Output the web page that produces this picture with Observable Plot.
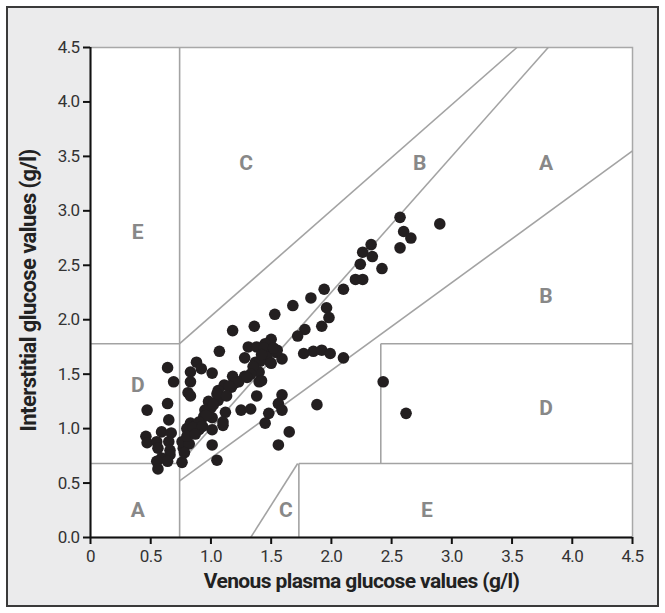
<!DOCTYPE html>
<html>
<head>
<meta charset="utf-8">
<script src="https://cdn.jsdelivr.net/npm/d3@7"></script>
<script src="https://cdn.jsdelivr.net/npm/@observablehq/plot@0.6"></script>
<style>
  html, body { margin: 0; padding: 0; background: #ffffff; }
  #wrap { position: relative; width: 665px; height: 613px; }
  #panel { position: absolute; left: 6px; top: 6px; width: 649px; height: 597px; background: #ebebec; border: 2px solid #3a3a3a; }
  #chart { position: absolute; left: 0; top: 0; }
  #chart svg text { letter-spacing: -0.6px; }
</style>
</head>
<body>
<div id="wrap"><div id="panel"></div><div id="chart"></div></div>
<script>
// Venous plasma glucose (g/l)
const venous = [
  2.57, 2.90, 2.60, 2.66, 2.57, 2.33, 2.26, 2.34, 2.24, 2.42,
  2.20, 2.26, 2.10, 1.94, 1.83, 1.68, 1.96, 1.53, 1.98, 1.36,
  1.92, 1.18, 1.78, 1.72, 1.50, 1.07, 1.31, 1.38, 1.45, 1.47,
  1.54, 1.85, 1.92, 1.99, 1.77, 2.10, 1.28, 1.59, 1.37, 1.49,
  0.88, 0.92, 0.83, 1.01, 0.64, 1.36, 1.18, 1.28, 1.40, 0.69,
  0.83, 1.23, 1.40, 1.42, 1.11, 1.17, 2.43, 0.81, 0.83, 1.06,
  1.38, 1.59, 0.64, 0.98, 1.06, 1.56, 1.88, 1.00, 0.95, 1.25,
  1.33, 1.59, 0.47, 1.12, 1.48, 2.62, 0.65, 1.10, 0.83, 0.88,
  1.45, 0.46, 0.47, 0.59, 0.67, 0.55, 0.56, 0.65, 0.66, 0.66,
  0.59, 0.55, 0.64, 0.56, 0.76, 0.77, 0.76, 0.82, 0.80, 0.90,
  1.01, 1.01, 1.05, 1.10, 1.65, 1.56, 1.01, 0.94, 1.55, 1.44,
  1.46, 1.41, 1.35, 1.33, 1.30, 1.20, 1.15, 1.05, 1.02, 0.96,
  0.90, 0.85, 0.80, 0.78, 1.42, 1.52, 0.93, 0.87, 1.13, 1.50
];
// Interstitial glucose (g/l)
const interstitial = [
  2.94, 2.88, 2.81, 2.75, 2.66, 2.69, 2.62, 2.58, 2.51, 2.47,
  2.37, 2.37, 2.28, 2.28, 2.20, 2.13, 2.11, 2.05, 2.02, 1.94,
  1.94, 1.90, 1.91, 1.85, 1.82, 1.71, 1.75, 1.75, 1.78, 1.71,
  1.70, 1.71, 1.72, 1.69, 1.69, 1.65, 1.65, 1.64, 1.61, 1.61,
  1.61, 1.55, 1.52, 1.51, 1.56, 1.54, 1.48, 1.48, 1.52, 1.43,
  1.43, 1.43, 1.43, 1.44, 1.40, 1.38, 1.43, 1.33, 1.30, 1.35,
  1.30, 1.31, 1.23, 1.25, 1.26, 1.23, 1.22, 1.19, 1.17, 1.17,
  1.18, 1.17, 1.17, 1.15, 1.14, 1.14, 1.08, 1.06, 1.05, 1.03,
  1.05, 0.93, 0.87, 0.97, 0.96, 0.88, 0.82, 0.88, 0.80, 0.76,
  0.73, 0.70, 0.70, 0.63, 0.69, 0.82, 0.88, 0.86, 1.00, 0.99,
  0.99, 0.85, 0.71, 1.03, 0.97, 0.85, 1.10, 1.11, 1.72, 1.74,
  1.66, 1.62, 1.57, 1.50, 1.47, 1.42, 1.39, 1.32, 1.22, 1.12,
  1.06, 1.01, 0.93, 0.78, 1.68, 1.74, 1.02, 0.95, 1.30, 1.60
];

// Error-grid boundary segments (g/l)
const gridX1 = [0.74, 0.00, 0.00, 0.74, 0.74, 0.74, 2.41, 2.41, 1.73, 1.73, 1.33];
const gridY1 = [0.00, 1.78, 0.68, 1.78, 0.68, 0.52, 0.68, 1.78, 0.68, 0.00, 0.00];
const gridX2 = [0.74, 0.74, 0.74, 3.54, 3.80, 4.50, 2.41, 4.50, 4.50, 1.73, 1.72];
const gridY2 = [4.50, 1.78, 0.68, 4.50, 4.50, 3.55, 1.78, 1.78, 0.68, 0.68, 0.68];

// Zone labels
const zoneLabels = ["C", "B", "A", "E", "B", "D", "D", "A", "C", "E"];
const zoneX = [1.29, 2.73, 3.78, 0.39, 3.78, 0.39, 3.78, 0.39, 1.62, 2.79];
const zoneY = [3.44, 3.44, 3.44, 2.80, 2.22, 1.40, 1.19, 0.25, 0.25, 0.25];

const ticks = [0, 0.5, 1, 1.5, 2, 2.5, 3, 3.5, 4, 4.5];
const xTitle = "Venous plasma glucose values (g/l)";
const yTitle = "Interstitial glucose values (g/l)";

const points = venous.map((v, i) => ({x: v, y: interstitial[i]}));
const segs = gridX1.map((v, i) => ({x1: v, y1: gridY1[i], x2: gridX2[i], y2: gridY2[i]}));
const zones = zoneLabels.map((t, i) => ({t, x: zoneX[i], y: zoneY[i]}));

const font = "Roboto, 'Liberation Sans', sans-serif";

const chart = Plot.plot({
  width: 665,
  height: 613,
  marginLeft: 90,
  marginRight: 33,
  marginTop: 47,
  marginBottom: 76,
  style: {background: "transparent", fontFamily: font, fontSize: "16px", color: "#222"},
  x: {domain: [0, 4.5]},
  y: {domain: [0, 4.5]},
  marks: [
    Plot.frame({fill: "white", stroke: "#a8a8a8", strokeWidth: 1.5}),
    Plot.link(segs, {x1: "x1", y1: "y1", x2: "x2", y2: "y2", stroke: "#a3a3a3", strokeWidth: 1.6}),
    Plot.text(zones, {x: "x", y: "y", text: "t", fill: "#888888", fontSize: 21, fontWeight: "bold"}),
    Plot.dot(points, {x: "x", y: "y", r: 5.8, fill: "#231f20", stroke: "none"}),
    Plot.ruleY([0], {stroke: "#111", strokeWidth: 2}),
    Plot.ruleX([0], {stroke: "#111", strokeWidth: 2}),
    Plot.axisX(ticks, {tickSize: 7, tickPadding: 5, stroke: "#111", strokeWidth: 2, fontSize: 17, fill: "#333", tickFormat: d => d === 0 ? "0" : d.toFixed(1), label: null}),
    Plot.axisY(ticks, {tickSize: 7, tickPadding: 4, stroke: "#111", strokeWidth: 2, fontSize: 17, fill: "#333", tickFormat: d => d.toFixed(1), label: null}),
    Plot.text([xTitle], {frameAnchor: "bottom", dy: 50, fontSize: 21, fontWeight: "bold", fill: "#222"}),
    Plot.text([yTitle], {frameAnchor: "left", textAnchor: "middle", dx: -62, dy: -2, rotate: -90, fontSize: 22, fontWeight: "bold", fill: "#222"})
  ]
});
document.getElementById("chart").appendChild(chart);
</script>
</body>
</html>
